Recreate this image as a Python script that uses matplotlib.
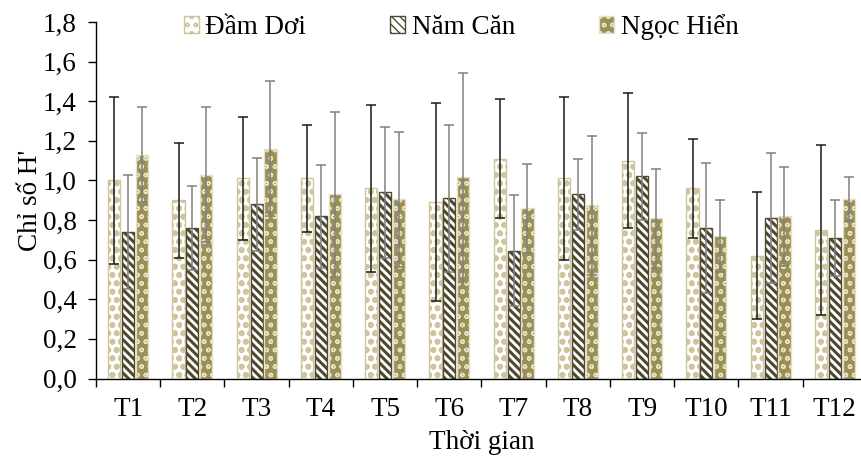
import numpy as np
import matplotlib
matplotlib.use('Agg')
import matplotlib.pyplot as plt
from matplotlib.ticker import FuncFormatter, FixedLocator

months = ['T1', 'T2', 'T3', 'T4', 'T5', 'T6',
          'T7', 'T8', 'T9', 'T10', 'T11', 'T12']
sites = ['Đầm Dơi', 'Năm Căn', 'Ngọc Hiển']

dam_doi = [1.00, 0.90, 1.01, 1.01, 0.96, 0.89,
           1.11, 1.01, 1.10, 0.96, 0.62, 0.75]
dam_doi_sd = [0.42, 0.29, 0.31, 0.27, 0.42, 0.50,
              0.30, 0.41, 0.34, 0.25, 0.32, 0.43]
nam_can = [0.74, 0.76, 0.88, 0.82, 0.94, 0.91,
           0.645, 0.93, 1.02, 0.76, 0.81, 0.71]
nam_can_sd = [0.29, 0.21, 0.235, 0.26, 0.33, 0.37,
              0.28, 0.18, 0.22, 0.33, 0.33, 0.19]
ngoc_hien = [1.13, 1.03, 1.16, 0.93, 0.905, 1.015,
             0.86, 0.875, 0.81, 0.72, 0.82, 0.905]
ngoc_hien_sd = [0.24, 0.34, 0.34, 0.415, 0.34, 0.53,
                0.225, 0.35, 0.25, 0.18, 0.25, 0.11]


def main():
    plt.rcParams['font.family'] = ['Liberation Serif', 'DejaVu Serif']
    fs = 19.5

    fig = plt.figure(figsize=(8.62, 4.58), dpi=100)
    ax = fig.add_axes([96 / 862, 79.5 / 458, 771 / 862, 356.5 / 458])

    x = np.arange(len(months))
    width = 0.19
    step = 0.215

    styles = [
        dict(facecolor='white', edgecolor='#CFC59C', hatch='oo'),
        dict(facecolor='white', edgecolor='#4E4930', hatch='\\' * 4),
        dict(facecolor='#9A8F55', edgecolor='#E6E0C6', hatch='oo'),
    ]
    hatch_widths = [1.8, 2.2, 1.0]
    err_colors = ['#1A1A1A', '#808080', '#808080']
    values = [dam_doi, nam_can, ngoc_hien]
    errors = [dam_doi_sd, nam_can_sd, ngoc_hien_sd]

    for i in range(3):
        pos = x + (i - 1) * step
        plt.rcParams['hatch.linewidth'] = hatch_widths[i]
        bars = ax.bar(pos, values[i], width, label=sites[i], linewidth=1.0,
                      zorder=2, **styles[i])
        for b in bars:
            if hasattr(b, 'set_hatch_linewidth'):
                b.set_hatch_linewidth(hatch_widths[i])
        ax.errorbar(pos, values[i], yerr=errors[i], fmt='none',
                    ecolor=err_colors[i], elinewidth=1.1, capsize=3.3,
                    capthick=1.1, zorder=3)

    ax.set_xlim(-0.5, len(months) - 0.5)
    ax.set_ylim(0, 1.8)
    ax.set_yticks(np.arange(0, 1.81, 0.2))
    ax.yaxis.set_major_formatter(
        FuncFormatter(lambda v, p: '{:.1f}'.format(v).replace('.', ',')))
    ax.set_xticks(x)
    ax.set_xticklabels(months)
    ax.xaxis.set_minor_locator(FixedLocator(np.arange(-0.5, len(months), 1)))
    ax.tick_params(axis='x', which='major', length=0, pad=13, labelsize=fs)
    ax.tick_params(axis='x', which='minor', length=6, width=1.0,
                   direction='out')
    ax.tick_params(axis='y', length=6, width=1.0, direction='out',
                   labelsize=fs, pad=8)

    for side in ['top', 'right']:
        ax.spines[side].set_visible(False)
    for side in ['left', 'bottom']:
        ax.spines[side].set_linewidth(1.0)

    ax.set_xlabel('Thời gian', fontsize=fs, labelpad=6)
    ax.set_ylabel("Chỉ số H'", fontsize=fs, labelpad=0)

    fig.legend(loc='center', bbox_to_anchor=(461 / 862, 1 - 27 / 458),
               ncol=3, frameon=False, fontsize=fs, handlelength=0.55,
               handleheight=0.55, handletextpad=0.25, columnspacing=3.1)

    fig.savefig('out.png', dpi=100)


if __name__ == '__main__':
    main()
